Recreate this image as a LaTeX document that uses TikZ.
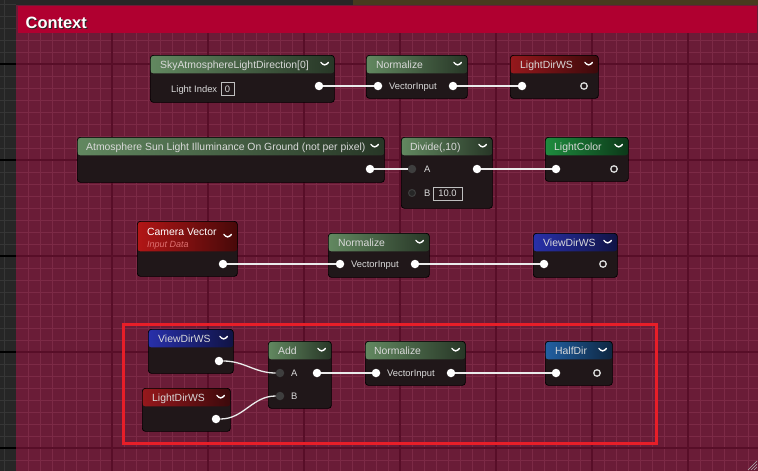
\documentclass[tikz,border=0pt]{standalone}
\usepackage{fontspec}
\setmainfont{Liberation Sans}
\usetikzlibrary{positioning}
\definecolor{edgegrey}{RGB}{38,38,38}
\definecolor{edgeline}{RGB}{54,54,54}
\definecolor{topbrown}{RGB}{72,58,30}
\definecolor{cmtbody}{RGB}{106,28,55}
\definecolor{cmtminor}{RGB}{124,42,70}
\definecolor{cmtmajor}{RGB}{88,14,40}
\definecolor{cmthead}{RGB}{176,0,48}
\definecolor{nodebody}{RGB}{32,23,25}
\definecolor{hgreen}{RGB}{98,136,96}
\definecolor{hred}{RGB}{150,24,28}
\definecolor{hcam}{RGB}{178,22,22}
\definecolor{hlc}{RGB}{30,140,62}
\definecolor{hblue}{RGB}{40,48,170}
\definecolor{hhalf}{RGB}{34,96,162}
\definecolor{hdfg}{RGB}{218,218,218}
\definecolor{pingrey}{RGB}{62,62,62}
\definecolor{hilitered}{RGB}{232,30,40}
\tikzset{
  uenode/.style n args={4}{rectangle, rounded corners=3pt, draw=black, line width=0.7pt,
    fill=nodebody, anchor=north west, inner sep=0pt,
    minimum width=#1pt, minimum height=#2pt,
    path picture={
      \shade[left color=#4, right color=#4!40!black]
        (path picture bounding box.north west) rectangle
        ([shift={(0,#3)}]path picture bounding box.north east);
      \draw[white, line width=1.4pt, line cap=round, line join=round]
        ([shift={(-13.5,#3/2-2)}]path picture bounding box.north east) -- ++(3.8,3.8) -- ++(3.8,-3.8);
    }},
  hdtxt/.style={anchor=base west, inner sep=0pt, text=hdfg, font=\fontsize{10.4}{12}\selectfont},
  pintxt/.style={anchor=base west, inner sep=0pt, text=hdfg, font=\fontsize{9.4}{11}\selectfont},
  valbox/.style={draw=white!75!black, line width=0.6pt, text=hdfg, inner sep=1pt,
                 minimum height=13pt, font=\fontsize{9.4}{11}\selectfont},
  pinw/.style={circle, fill=white, minimum size=8.5pt, inner sep=0pt},
  pino/.style={circle, draw=white!85!black, line width=1.3pt, minimum size=6.5pt, inner sep=0pt},
  ping/.style={circle, fill=pingrey, minimum size=8.5pt, inner sep=0pt},
  pinr/.style={circle, draw=pingrey, fill=black!85, line width=1pt, minimum size=7pt, inner sep=0pt},
  wire/.style={draw=white!92!black, line width=1.3pt},
  ctxtxt/.style={anchor=base west, inner sep=0pt, font=\fontsize{16.4}{18}\selectfont\bfseries},
  hilite/.style={draw=hilitered, line width=3pt, anchor=north west, inner sep=0pt},
}
\begin{document}
\begin{tikzpicture}[x=1pt, y=-1pt]
  \useasboundingbox (0,0) rectangle (758,471);
  % graph canvas and comment box
  \fill[edgegrey] (0,0) rectangle (758,471);
  \foreach \g in {4,16,...,471} \draw[edgeline, line width=0.8pt] (0,\g) -- (16,\g);
  \draw[edgeline, line width=0.8pt] (4,0) -- (4,471);
  \foreach \g in {64,160,...,460} \draw[black, line width=1.2pt] (0,\g) -- (16,\g);
  \fill[topbrown] (353,0) rectangle (758,5);
  \fill[cmtbody] (16,5) rectangle (758,471);
  \begin{scope}
    \clip (16,33) rectangle (758,471);
    \foreach \g in {28,40,...,760} \draw[cmtminor, line width=1pt] (\g,33) -- (\g,471);
    \foreach \g in {40,52,...,471} \draw[cmtminor, line width=1pt] (16,\g) -- (758,\g);
    \foreach \g in {112,208,...,700} \draw[cmtmajor, line width=1.4pt] (\g,33) -- (\g,471);
    \foreach \g in {64,160,...,460} \draw[cmtmajor, line width=1.4pt] (16,\g) -- (758,\g);
  \end{scope}
  \fill[cmthead] (18,6) rectangle (757,33);
  \node[ctxtxt, text=black!85] (ctxshadow) at (26.5,29.5) {Context};
  \node[ctxtxt, text=white] (ctx) at (25.5,28.5) {Context};
  \foreach \d in {3,6,9} \draw[white!70!black, line width=0.6pt] (757-\d,470) -- (757,470-\d);
  \node[hilite, minimum width=533pt, minimum height=119pt] (focus) at (121.5,322.5) {};

  % light direction
  \node[uenode={184}{47}{18}{hgreen}] (sky) at (150,55) {};
  \node[hdtxt] (skyT) at (160,68) {SkyAtmosphereLightDirection[0]};
  \node[pintxt] (skyL) at (171,92.4) {Light Index};
  \node[valbox, minimum width=13pt] (skyV) at (227.5,89) {0};
  \node[pinw] (skyO) at (319,86) {};
  \node[uenode={101}{43}{18}{hgreen}] (nrmA) at (366,55) {};
  \node[hdtxt] (nrmAT) at (376,68) {Normalize};
  \node[pinw] (nrmAI) at (378,86) {};
  \node[pintxt] (nrmAL) at (389,89.4) {VectorInput};
  \node[pinw] (nrmAO) at (453,86) {};
  \node[uenode={88}{43}{18}{hred}] (ldA) at (510,55) {};
  \node[hdtxt] (ldAT) at (520,68) {LightDirWS};
  \node[pinw] (ldAI) at (522,86) {};
  \node[pino] (ldAO) at (584,86) {};

  % light colour
  \node[uenode={307}{45}{18}{hgreen}] (sun) at (77,137) {};
  \node[hdtxt] (sunT) at (86,150) {Atmosphere Sun Light Illuminance On Ground (not per pixel)};
  \node[pinw] (sunO) at (370,169) {};
  \node[uenode={91}{71}{18}{hgreen}] (div) at (401,137) {};
  \node[hdtxt] (divT) at (410,150) {Divide(,10)};
  \node[ping] (divA) at (412,169) {};
  \node[pintxt] (divAL) at (424,172.4) {A};
  \node[pinr] (divB) at (412,193) {};
  \node[pintxt] (divBL) at (424,196.4) {B};
  \node[valbox, minimum width=29pt] (divV) at (447.5,193.5) {10.0};
  \node[pinw] (divO) at (477,169) {};
  \node[uenode={83}{44}{18}{hlc}] (lcol) at (545,137) {};
  \node[hdtxt] (lcolT) at (554,150) {LightColor};
  \node[pinw] (lcolI) at (556,169) {};
  \node[pino] (lcolO) at (614,169) {};

  % view direction
  \node[uenode={100}{55}{30}{hcam}] (cam) at (137,221) {};
  \node[hdtxt, text=white] (camT) at (147,235) {Camera Vector};
  \node[hdtxt, text={rgb,255:red,222;green,112;blue,112}, font=\fontsize{9}{10}\selectfont\itshape] (camS) at (147,247.5) {Input Data};
  \node[pinw] (camO) at (223,264) {};
  \node[uenode={101}{44}{18}{hgreen}] (nrmB) at (328,233) {};
  \node[hdtxt] (nrmBT) at (338,246) {Normalize};
  \node[pinw] (nrmBI) at (340,264) {};
  \node[pintxt] (nrmBL) at (351,267.4) {VectorInput};
  \node[pinw] (nrmBO) at (415,264) {};
  \node[uenode={84}{44}{18}{hblue}] (vdA) at (533,233) {};
  \node[hdtxt] (vdAT) at (543,246) {ViewDirWS};
  \node[pinw] (vdAI) at (544,264) {};
  \node[pino] (vdAO) at (603,264) {};

  % half vector
  \node[uenode={85}{44}{18}{hblue}] (vdB) at (148,329) {};
  \node[hdtxt] (vdBT) at (158,342) {ViewDirWS};
  \node[pinw] (vdBO) at (219,361) {};
  \node[uenode={88}{43}{18}{hred}] (ldB) at (142,388) {};
  \node[hdtxt] (ldBT) at (152,401) {LightDirWS};
  \node[pinw] (ldBO) at (216,419) {};
  \node[uenode={63}{67}{18}{hgreen}] (add) at (268,341) {};
  \node[hdtxt] (addT) at (278,354) {Add};
  \node[ping] (addA) at (280,373) {};
  \node[pintxt] (addAL) at (291,376.4) {A};
  \node[ping] (addB) at (280,396) {};
  \node[pintxt] (addBL) at (291,399.4) {B};
  \node[pinw] (addO) at (317,373) {};
  \node[uenode={100}{44}{18}{hgreen}] (nrmC) at (365,341) {};
  \node[hdtxt] (nrmCT) at (374,354) {Normalize};
  \node[pinw] (nrmCI) at (376,373) {};
  \node[pintxt] (nrmCL) at (387,376.4) {VectorInput};
  \node[pinw] (nrmCO) at (451,373) {};
  \node[uenode={67}{44}{18}{hhalf}] (half) at (545,341) {};
  \node[hdtxt] (halfT) at (555,354) {HalfDir};
  \node[pinw] (halfI) at (556,373) {};
  \node[pino] (halfO) at (597,373) {};

  % wires
  \draw[wire] (skyO.east) -- (nrmAI.west);
  \draw[wire] (nrmAO.east) -- (ldAI.west);
  \draw[wire] (sunO.east) -- (divA.west);
  \draw[wire] (divO.east) -- (lcolI.west);
  \draw[wire] (camO.east) -- (nrmBI.west);
  \draw[wire] (nrmBO.east) -- (vdAI.west);
  \draw[wire] (vdBO.east) to[out=0, in=180] (addA.west);
  \draw[wire] (ldBO.east) to[out=0, in=180] (addB.west);
  \draw[wire] (addO.east) -- (nrmCI.west);
  \draw[wire] (nrmCO.east) -- (halfI.west);
\end{tikzpicture}
\end{document}
